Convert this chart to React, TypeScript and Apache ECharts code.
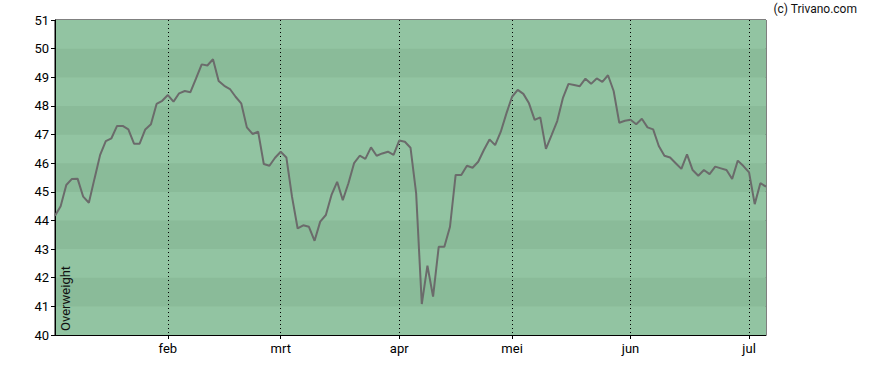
import React, { useEffect, useRef } from "react";
import * as echarts from "echarts";

const values: number[] = [
  44.16, 44.5, 45.24, 45.45, 45.46, 44.83, 44.62, 45.46, 46.29, 46.77,
  46.87, 47.3, 47.3, 47.18, 46.68, 46.68, 47.18, 47.36, 48.07, 48.18,
  48.38, 48.15, 48.44, 48.52, 48.48, 48.96, 49.45, 49.41, 49.63, 48.87,
  48.7, 48.59, 48.32, 48.09, 47.25, 47.02, 47.1, 45.97, 45.91, 46.19,
  46.4, 46.2, 44.83, 43.72, 43.83, 43.78, 43.29, 43.96, 44.19, 44.89,
  45.35, 44.71, 45.3, 46.0, 46.26, 46.15, 46.55, 46.26, 46.34, 46.4,
  46.29, 46.79, 46.75, 46.54, 44.95, 41.08, 42.42, 41.34, 43.08, 43.08,
  43.78, 45.59, 45.59, 45.91, 45.84, 46.05, 46.46, 46.83, 46.63, 47.1,
  47.74, 48.32, 48.56, 48.42, 48.09, 47.51, 47.6, 46.5, 46.98, 47.47,
  48.27, 48.77, 48.73, 48.69, 48.95, 48.77, 48.96, 48.84, 49.07, 48.52,
  47.41, 47.48, 47.52, 47.36, 47.55, 47.25, 47.18, 46.6, 46.26, 46.2,
  46.0, 45.8, 46.31, 45.76, 45.56, 45.76, 45.62, 45.88, 45.82, 45.76,
  45.45, 46.09, 45.9, 45.68, 44.57, 45.3, 45.18,
];

const monthStartIndex: number[] = [20, 40, 61, 81, 102, 123];
const monthLabels: string[] = ["feb", "mrt", "apr", "mei", "jun", "jul"];

const yMin = 40;
const yMax = 51;
const yStep = 1;

const seriesName = "Overweight";
const credit = "(c) Trivano.com";

const categories: string[] = values.map((_, i) => String(i));

export default function App() {
  const ref = useRef<HTMLDivElement>(null);

  useEffect(() => {
    if (!ref.current) return;
    const chart = echarts.init(ref.current, undefined, { renderer: "svg" });
    const isMonth = (idx: number) => monthStartIndex.indexOf(idx) >= 0;
    const font = "Roboto, 'Liberation Sans', Arial, sans-serif";

    chart.setOption({
      animation: false,
      textStyle: { fontFamily: font },
      grid: {
        left: 55,
        right: 122,
        top: 20,
        bottom: 35,
        show: true,
        borderColor: "#000",
        borderWidth: 1,
        backgroundColor: "#8abb99",
      },
      xAxis: {
        type: "category",
        data: categories,
        boundaryGap: false,
        axisLine: { show: true, lineStyle: { color: "#000", width: 1 } },
        axisTick: {
          show: true,
          interval: (idx: number) => isMonth(idx),
          length: 4,
          lineStyle: { color: "#000" },
        },
        axisLabel: {
          interval: (idx: number) => isMonth(idx),
          formatter: (_v: string, idx: number) => {
            const k = monthStartIndex.indexOf(idx);
            return k >= 0 ? monthLabels[k] : "";
          },
          color: "#000",
          fontSize: 13,
          fontFamily: font,
          margin: 7,
        },
        splitLine: {
          show: true,
          interval: (idx: number) => isMonth(idx),
          lineStyle: { color: "#000", type: [1, 3], width: 1 },
        },
      },
      yAxis: {
        type: "value",
        min: yMin,
        max: yMax,
        interval: yStep,
        axisLine: { show: true, lineStyle: { color: "#000", width: 1 } },
        axisTick: { show: true, length: 4, lineStyle: { color: "#000" } },
        axisLabel: {
          color: "#000",
          fontSize: 13,
          fontFamily: font,
          margin: 6,
        },
        splitLine: { show: false },
        splitArea: {
          show: true,
          areaStyle: { color: ["#92c4a2", "#8abb99"] },
        },
      },
      series: [
        {
          name: seriesName,
          type: "line",
          data: values,
          showSymbol: false,
          symbol: "none",
          lineStyle: { color: "#6b6b6b", width: 2 },
          z: 5,
        },
      ],
      graphic: [
        {
          type: "text",
          x: 65,
          y: 331,
          rotation: Math.PI / 2,
          style: {
            text: seriesName,
            fill: "#111",
            font: `13px ${font}`,
            textAlign: "left",
            textVerticalAlign: "middle",
          },
          z: 10,
        },
        {
          type: "text",
          x: 857,
          y: 9,
          style: {
            text: credit,
            fill: "#111",
            font: `12px ${font}`,
            textAlign: "right",
            textVerticalAlign: "middle",
          },
        },
      ],
    });

    return () => chart.dispose();
  }, []);

  return (
    <div
      ref={ref}
      style={{ position: "absolute", left: 0, top: 0, width: 888, height: 370 }}
    />
  );
}
